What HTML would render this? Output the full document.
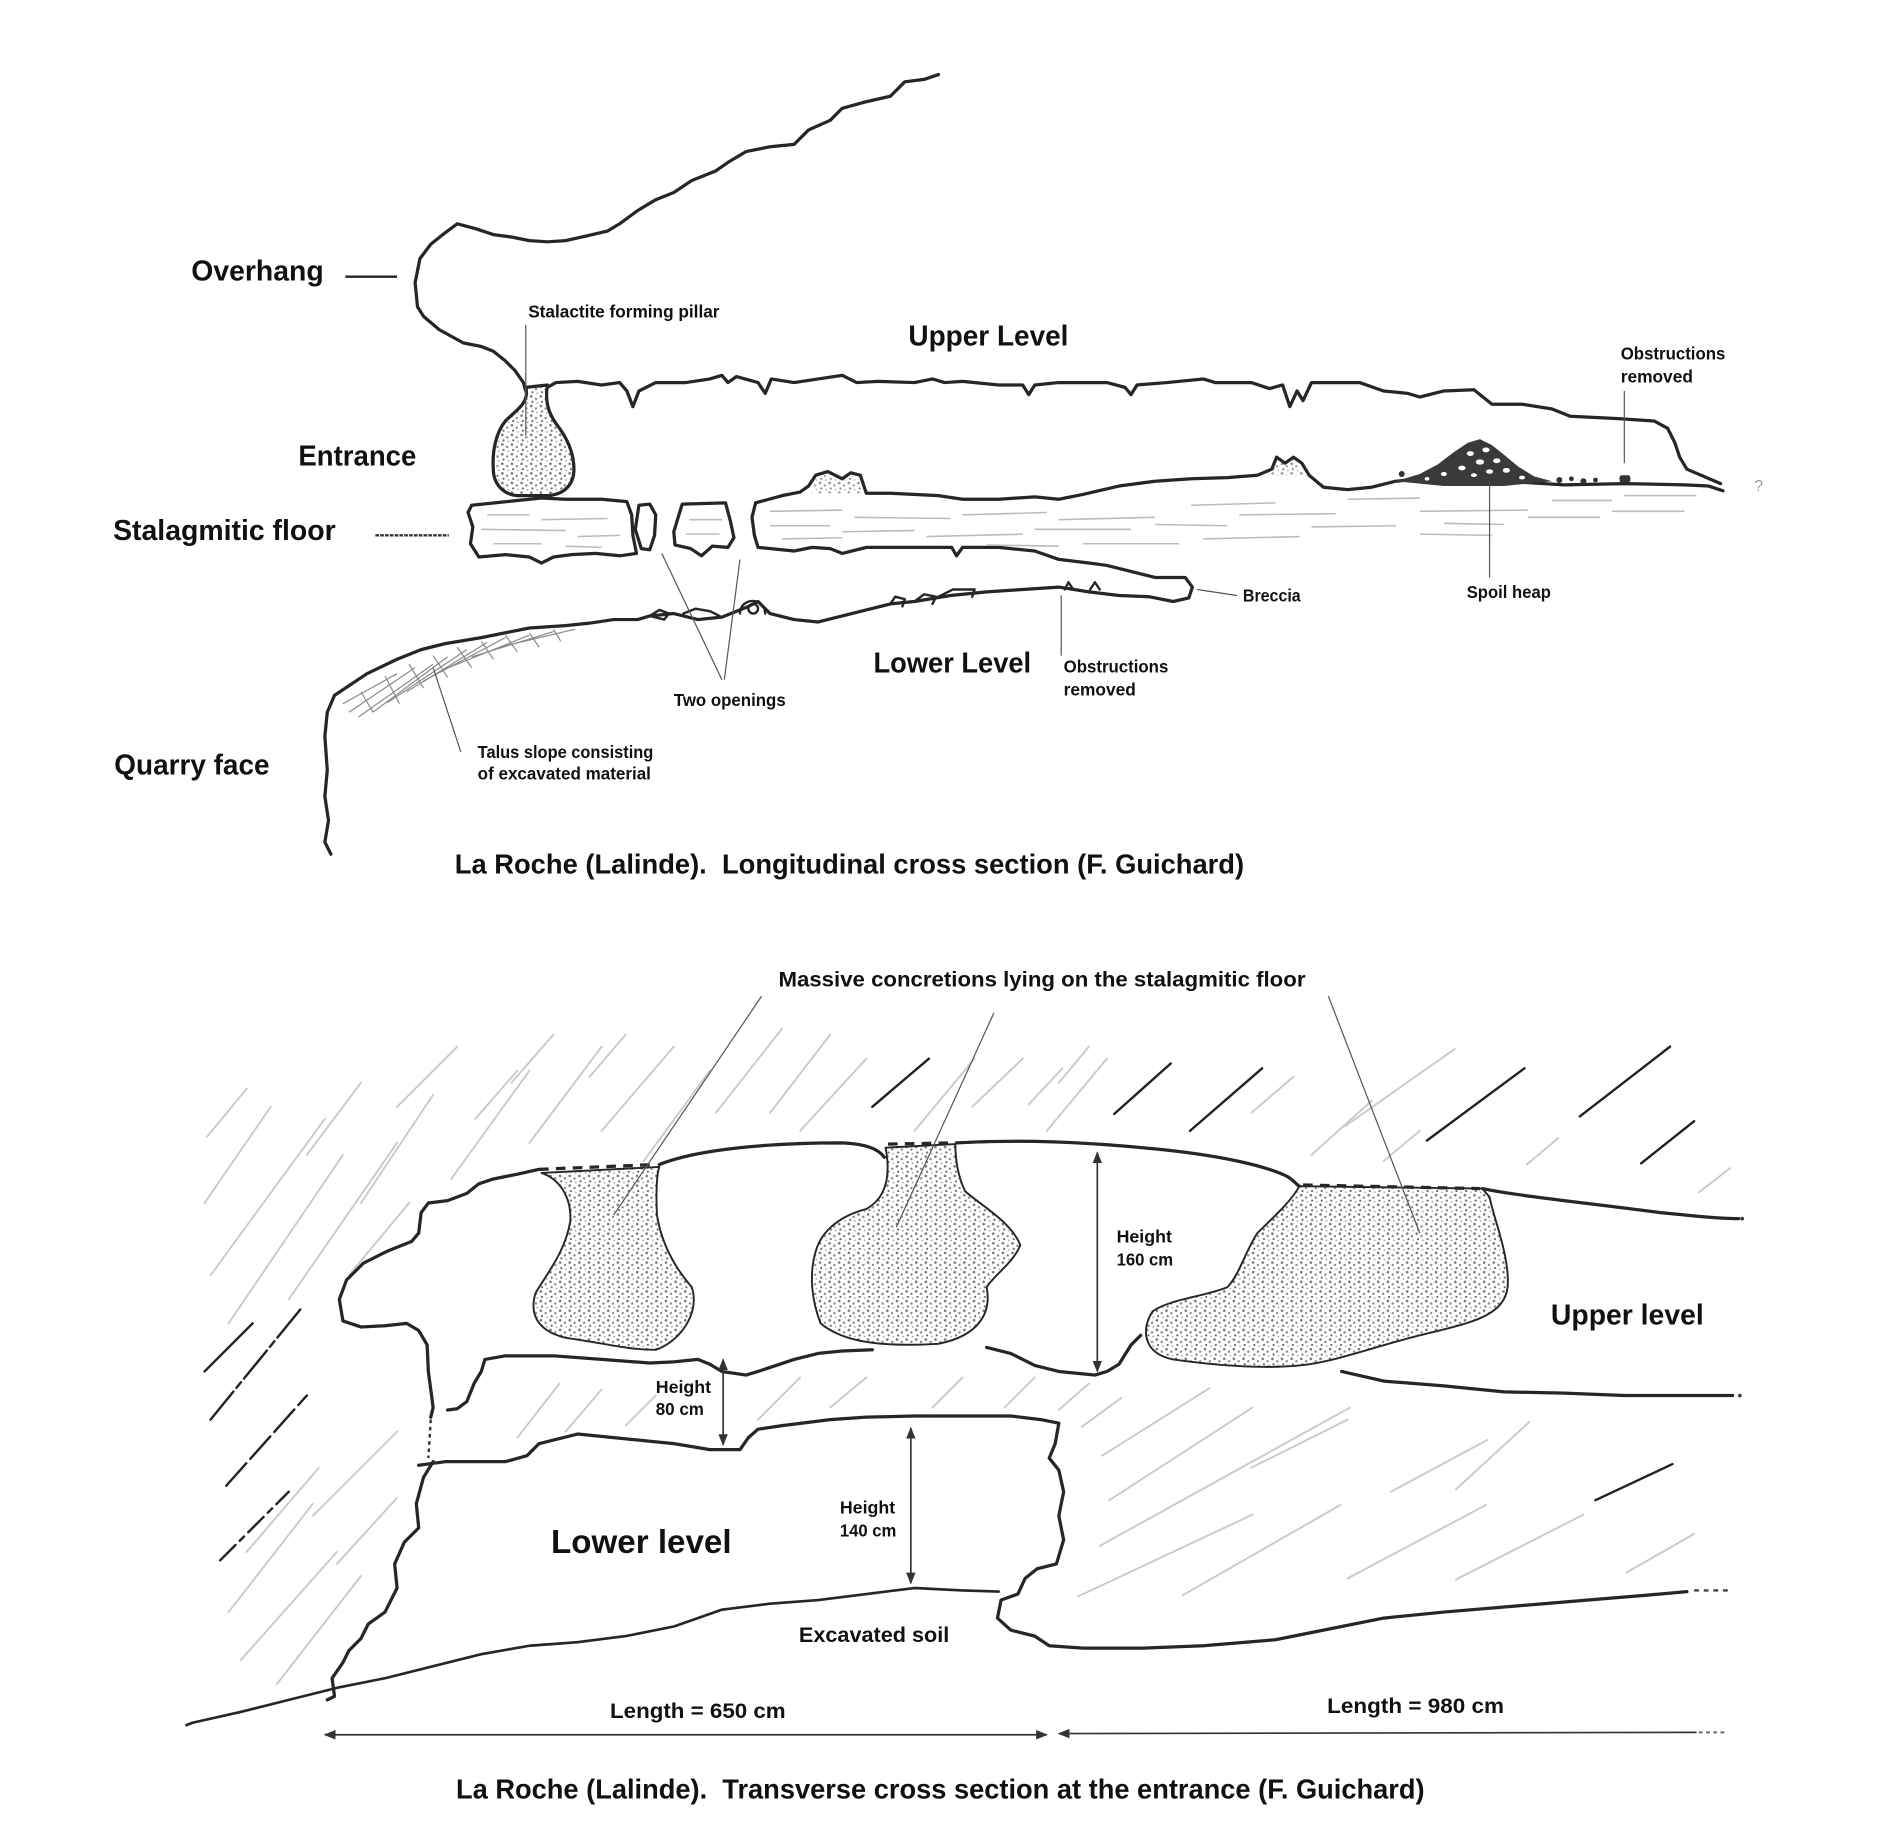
<!DOCTYPE html>
<html><head><meta charset="utf-8"><style>
html,body{margin:0;padding:0;background:#fff;}
svg{display:block;}
text{font-family:"Liberation Sans",sans-serif;font-weight:bold;fill:#111;}
.o{fill:none;stroke:#262626;stroke-width:2.7;stroke-linejoin:round;stroke-linecap:round;}
.t{fill:none;stroke:#555;stroke-width:1;}
.h{fill:none;stroke:#cacaca;stroke-width:1.6;stroke-linecap:round;}
.d{fill:none;stroke:#222;stroke-width:2;stroke-linecap:round;}
.f{fill:none;stroke:#bbb;stroke-width:1.3;}
</style></head><body>
<svg width="1877" height="1825" viewBox="0 0 1560 1517" preserveAspectRatio="none" xmlns="http://www.w3.org/2000/svg">
<defs>
<pattern id="dots" width="8" height="8" patternUnits="userSpaceOnUse">
<circle cx="1.5" cy="1.5" r="1.1" fill="#777"/><circle cx="5.5" cy="3.5" r="1" fill="#888"/><circle cx="2.5" cy="6" r="0.9" fill="#666"/><circle cx="6.5" cy="7" r="0.7" fill="#999"/>
</pattern>
<marker id="ah" viewBox="0 0 10 10" refX="9" refY="5" markerWidth="7" markerHeight="7" orient="auto-start-reverse"><path d="M0,1 L10,5 L0,9 z" fill="#333"/></marker>
</defs>
<rect width="1560" height="1517" fill="#fff"/>

<!-- ============ TOP SECTION ============ -->
<polyline class="o" points="780,62 768,66 752,68 740,80 718,85 700,90 690,100 672,108 660,120 640,122 620,126 605,135 595,142 575,150 560,160 545,166 530,175 515,186 505,192 488,196 470,200 455,201 440,200 425,197 410,195 395,190 380,186 368,195 358,203 349,215 345,235 347,255 352,263 365,274 385,285 400,288 410,292 420,300 428,308 435,318 437,325"/>
<!-- pillar -->
<path d="M437,322 C440,335 430,340 420,350 C412,360 409,375 410,390 C410,402 418,411 430,412 L455,412 C470,411 477,402 477,390 C477,375 470,362 462,352 C455,342 453,332 455,320 Z" class="o" style="fill:url(#dots)"/>
<line class="t" x1="437" y1="270" x2="437" y2="362"/>
<!-- upper level ceiling -->
<polyline class="o" points="455,322 462,318 480,317 500,320 515,318 521,325 526,338 531,325 545,318 570,318 590,315 600,312 605,318 612,313 630,318 636,327 641,315 660,318 680,315 700,312 712,318 730,317 760,318 775,315 785,318 800,317 830,320 850,320 855,328 860,320 880,318 920,318 935,322 940,328 945,320 970,318 1000,315 1010,318 1040,318 1055,323 1066,320 1072,338 1078,325 1083,333 1090,318 1110,318 1130,318 1150,325 1170,327 1180,330 1200,325 1225,324 1240,336 1265,336 1290,340 1305,346 1345,348 1375,350 1386,356 1392,368 1396,380 1402,390 1416,396 1430,402"/>
<!-- floor blocks -->
<path class="o" d="M392,420 L430,416 L450,414 L470,415 L500,415 L521,417 L525,428 L526,445 L529,460 L515,462 L495,460 L475,461 L460,463 L450,468 L440,463 L420,461 L398,463 L391,452 L393,438 L389,426 Z"/>
<path class="o" d="M531,420 L540,419 L545,428 L544,445 L540,457 L533,456 L528,440 Z"/>
<path class="o" d="M567,419 L603,418 L607,433 L610,447 L605,455 L592,454 L583,462 L574,456 L561,453 L560,442 Z"/>
<!-- bumps on floor -->
<path d="M674,410 L678,398 L688,394 L700,400 L707,395 L714,398 L718,410 Z" style="fill:url(#dots)" opacity="0.8"/>
<path d="M1056,395 L1062,384 L1068,386 L1075,382 L1085,395 Z" style="fill:url(#dots)" opacity="0.8"/>
<!-- big right block -->
<polyline class="o" points="628,418 650,412 665,409 672,404 678,395 688,392 700,398 707,393 715,395 720,410 740,410 780,412 800,415 830,415 860,413 880,415 900,411 930,404 960,400 990,398 1020,397 1045,395 1057,390 1061,380 1068,385 1075,380 1082,385 1088,395 1100,405 1120,407 1140,405 1160,400 1180,398 1200,396 1250,400 1300,403 1350,402 1400,403 1420,404 1432,408"/>
<polyline class="o" points="628,418 625,430 627,445 630,455 660,458 675,455 690,456 700,460 720,455 750,455 780,455 791,455 795,462 800,455 830,455 860,458 880,465 905,468 920,470 940,475 960,480 985,480 991,488 988,497 975,500 955,496 930,495 905,492 880,488 850,490 820,492 790,495 760,500 740,502 720,507 700,512 680,517 660,515 640,510 630,500 620,505 600,513 580,515 560,510 540,512 530,515 510,515 490,518 470,520 440,522 400,530 370,535 350,540 330,548 305,560 290,570 278,578 272,592 270,612 272,640 270,662 273,682 270,700 275,710"/>
<!-- floor texture -->
<g class="f">
<line x1="405" y1="428" x2="440" y2="428"/><line x1="450" y1="432" x2="505" y2="431"/><line x1="400" y1="440" x2="470" y2="441"/><line x1="480" y1="446" x2="515" y2="445"/><line x1="410" y1="452" x2="450" y2="452"/><line x1="470" y1="454" x2="500" y2="455"/>
<line x1="573" y1="432" x2="600" y2="432"/><line x1="570" y1="444" x2="598" y2="444"/>
<line x1="640" y1="425" x2="700" y2="424"/><line x1="710" y1="430" x2="790" y2="431"/><line x1="640" y1="437" x2="690" y2="437"/><line x1="700" y1="442" x2="760" y2="441"/><line x1="650" y1="448" x2="700" y2="447"/><line x1="770" y1="446" x2="850" y2="444"/>
<line x1="800" y1="428" x2="870" y2="426"/><line x1="880" y1="432" x2="960" y2="430"/><line x1="860" y1="440" x2="940" y2="440"/><line x1="960" y1="436" x2="1020" y2="437"/><line x1="900" y1="452" x2="980" y2="452"/><line x1="820" y1="453" x2="880" y2="454"/>
<line x1="990" y1="420" x2="1060" y2="418"/><line x1="1030" y1="428" x2="1110" y2="427"/><line x1="1000" y1="448" x2="1080" y2="446"/><line x1="1090" y1="438" x2="1160" y2="437"/><line x1="1120" y1="415" x2="1180" y2="414"/>
<line x1="1180" y1="425" x2="1270" y2="424"/><line x1="1200" y1="435" x2="1250" y2="436"/><line x1="1180" y1="444" x2="1240" y2="445"/><line x1="1270" y1="430" x2="1330" y2="430"/><line x1="1290" y1="416" x2="1340" y2="416"/><line x1="1340" y1="425" x2="1400" y2="425"/><line x1="1350" y1="412" x2="1410" y2="412"/>
</g>
<!-- spoil heap -->
<path d="M1160,400 L1180,394 L1195,386 L1208,376 L1220,368 L1230,365 L1240,370 L1250,378 L1262,388 L1275,396 L1290,400 L1250,404 L1200,404 Z" fill="#3a3a3a"/>
<g fill="#fff">
<ellipse cx="1222" cy="377" rx="3" ry="2"/><ellipse cx="1235" cy="374" rx="3" ry="2"/><ellipse cx="1230" cy="384" rx="3.5" ry="2.2"/><ellipse cx="1244" cy="383" rx="3" ry="2"/><ellipse cx="1215" cy="389" rx="3" ry="2"/><ellipse cx="1252" cy="391" rx="3" ry="2"/><ellipse cx="1238" cy="392" rx="3" ry="1.8"/><ellipse cx="1200" cy="394" rx="2.5" ry="1.8"/><ellipse cx="1225" cy="395" rx="2.5" ry="1.6"/><ellipse cx="1265" cy="397" rx="2.5" ry="1.6"/><ellipse cx="1186" cy="398" rx="2" ry="1.5"/>
</g>
<g fill="#333">
<circle cx="1165" cy="394" r="2.5"/><circle cx="1296" cy="399" r="2.5"/><circle cx="1306" cy="398" r="2"/><circle cx="1316" cy="400" r="2.5"/><circle cx="1326" cy="399" r="2"/><rect x="1346" y="395" width="9" height="6" rx="2"/>
</g>
<!-- lower level blobs -->
<g class="o" style="stroke-width:2">
<path d="M540,512 L548,507 L556,510 L552,515 Z"/><path d="M568,510 L578,506 L590,508 L598,512"/><path d="M615,510 C615,497 635,495 636,510"/><circle cx="626" cy="506" r="4"/>
<path d="M740,502 L744,496 L752,498 L750,504"/><path d="M760,500 L768,494 L778,496 L775,502"/><path d="M780,496 L792,490 L810,490 L808,496"/><path d="M885,490 L888,484 L892,490"/><path d="M906,490 L910,484 L914,490"/>
</g>
<!-- talus hatching -->
<g stroke="#8a8a8a" stroke-width="1" fill="none">
<line x1="285" y1="585" x2="330" y2="560"/><line x1="290" y1="592" x2="345" y2="555"/><line x1="298" y1="596" x2="360" y2="552"/><line x1="310" y1="592" x2="372" y2="546"/><line x1="322" y1="584" x2="388" y2="540"/><line x1="338" y1="575" x2="405" y2="534"/><line x1="352" y1="566" x2="420" y2="530"/><line x1="370" y1="556" x2="440" y2="528"/><line x1="392" y1="546" x2="460" y2="525"/><line x1="415" y1="538" x2="478" y2="523"/>
<line x1="300" y1="575" x2="310" y2="592"/><line x1="320" y1="562" x2="332" y2="585"/><line x1="340" y1="552" x2="352" y2="572"/><line x1="360" y1="545" x2="372" y2="563"/><line x1="380" y1="538" x2="392" y2="555"/><line x1="400" y1="533" x2="410" y2="548"/><line x1="420" y1="528" x2="430" y2="542"/><line x1="440" y1="526" x2="448" y2="538"/><line x1="460" y1="523" x2="466" y2="533"/>
</g>
<!-- leaders -->
<line x1="287" y1="230" x2="330" y2="230" stroke="#222" stroke-width="2"/>
<line x1="312" y1="445" x2="373" y2="445" stroke="#333" stroke-width="2" stroke-dasharray="3,1"/>
<line class="t" x1="550" y1="460" x2="600" y2="565"/>
<line class="t" x1="615" y1="465" x2="602" y2="565"/>
<line class="t" x1="995" y1="490" x2="1028" y2="495"/>
<line class="t" x1="1238" y1="400" x2="1238" y2="480"/>
<line class="t" x1="1350" y1="325" x2="1350" y2="385"/>
<line class="t" x1="882" y1="495" x2="882" y2="545"/>
<line class="t" x1="360" y1="555" x2="383" y2="625"/>
<text x="1458" y="408" font-size="13" style="font-weight:normal;fill:#999">?</text>

<!-- top texts -->
<text x="159" y="233" font-size="24" textLength="110" lengthAdjust="spacingAndGlyphs">Overhang</text>
<text x="439" y="264" font-size="14.5" textLength="159" lengthAdjust="spacingAndGlyphs">Stalactite forming pillar</text>
<text x="755" y="287" font-size="24" textLength="133" lengthAdjust="spacingAndGlyphs">Upper Level</text>
<text x="1347" y="299" font-size="14.5" textLength="87" lengthAdjust="spacingAndGlyphs">Obstructions</text>
<text x="1347" y="318" font-size="14.5" textLength="60" lengthAdjust="spacingAndGlyphs">removed</text>
<text x="248" y="387" font-size="24" textLength="98" lengthAdjust="spacingAndGlyphs">Entrance</text>
<text x="94" y="449" font-size="24" textLength="185" lengthAdjust="spacingAndGlyphs">Stalagmitic floor</text>
<text x="1033" y="500" font-size="14.5" textLength="48" lengthAdjust="spacingAndGlyphs">Breccia</text>
<text x="1219" y="497" font-size="14.5" textLength="70" lengthAdjust="spacingAndGlyphs">Spoil heap</text>
<text x="726" y="559" font-size="24" textLength="131" lengthAdjust="spacingAndGlyphs">Lower Level</text>
<text x="884" y="559" font-size="14.5" textLength="87" lengthAdjust="spacingAndGlyphs">Obstructions</text>
<text x="884" y="578" font-size="14.5" textLength="60" lengthAdjust="spacingAndGlyphs">removed</text>
<text x="560" y="587" font-size="14.5" textLength="93" lengthAdjust="spacingAndGlyphs">Two openings</text>
<text x="95" y="644" font-size="24" textLength="129" lengthAdjust="spacingAndGlyphs">Quarry face</text>
<text x="397" y="630" font-size="14.5" textLength="146" lengthAdjust="spacingAndGlyphs">Talus slope consisting</text>
<text x="397" y="648" font-size="14.5" textLength="144" lengthAdjust="spacingAndGlyphs">of excavated material</text>
<text x="378" y="726" font-size="23" textLength="656" lengthAdjust="spacingAndGlyphs" xml:space="preserve">La Roche (Lalinde).  Longitudinal cross section (F. Guichard)</text>

<!-- ============ BOTTOM SECTION ============ -->
<g class="h">
<line x1="170" y1="1000" x2="225" y2="920"/><line x1="175" y1="1060" x2="270" y2="930"/><line x1="190" y1="1100" x2="285" y2="960"/><line x1="172" y1="945" x2="205" y2="905"/>
<line x1="240" y1="1080" x2="330" y2="950"/><line x1="255" y1="960" x2="300" y2="900"/><line x1="300" y1="1000" x2="360" y2="910"/><line x1="290" y1="1060" x2="340" y2="1000"/>
<line x1="330" y1="920" x2="380" y2="870"/><line x1="375" y1="980" x2="440" y2="890"/><line x1="395" y1="930" x2="430" y2="890"/><line x1="440" y1="950" x2="500" y2="870"/>
<line x1="425" y1="900" x2="460" y2="860"/><line x1="500" y1="940" x2="560" y2="870"/><line x1="490" y1="895" x2="520" y2="860"/><line x1="535" y1="965" x2="590" y2="890"/>
<line x1="595" y1="925" x2="650" y2="855"/><line x1="640" y1="925" x2="690" y2="860"/><line x1="665" y1="940" x2="720" y2="880"/><line x1="760" y1="940" x2="810" y2="880"/>
<line x1="808" y1="920" x2="850" y2="880"/><line x1="870" y1="940" x2="920" y2="880"/><line x1="880" y1="900" x2="905" y2="870"/><line x1="855" y1="918" x2="883" y2="888"/>
<line x1="1118" y1="936" x2="1209" y2="872"/><line x1="1090" y1="960" x2="1140" y2="915"/><line x1="1269" y1="968" x2="1295" y2="946"/><line x1="1412" y1="991" x2="1438" y2="971"/>
<line x1="1040" y1="925" x2="1075" y2="895"/><line x1="1150" y1="965" x2="1180" y2="940"/>
<line x1="430" y1="1195" x2="465" y2="1150"/><line x1="470" y1="1190" x2="500" y2="1155"/><line x1="630" y1="1180" x2="665" y2="1145"/><line x1="690" y1="1170" x2="720" y2="1145"/><line x1="775" y1="1170" x2="800" y2="1145"/><line x1="835" y1="1170" x2="860" y2="1145"/><line x1="880" y1="1172" x2="905" y2="1150"/><line x1="520" y1="1185" x2="545" y2="1160"/>
<line x1="190" y1="1340" x2="260" y2="1250"/><line x1="200" y1="1380" x2="280" y2="1290"/><line x1="205" y1="1290" x2="265" y2="1220"/><line x1="230" y1="1400" x2="300" y2="1310"/><line x1="260" y1="1260" x2="330" y2="1190"/><line x1="280" y1="1300" x2="330" y2="1245"/>
<line x1="899" y1="1186" x2="932" y2="1162"/><line x1="916" y1="1210" x2="1005" y2="1154"/><line x1="922" y1="1247" x2="1041" y2="1170"/><line x1="914" y1="1285" x2="1122" y2="1170"/><line x1="896" y1="1327" x2="1041" y2="1259"/><line x1="983" y1="1326" x2="1114" y2="1251"/><line x1="1120" y1="1312" x2="1235" y2="1251"/><line x1="1210" y1="1313" x2="1316" y2="1259"/><line x1="1210" y1="1238" x2="1271" y2="1182"/><line x1="1156" y1="1240" x2="1236" y2="1197"/><line x1="1352" y1="1307" x2="1408" y2="1275"/><line x1="1040" y1="1220" x2="1120" y2="1180"/>
</g>
<g class="d">
<line x1="926" y1="926" x2="973" y2="884"/><line x1="989" y1="940" x2="1049" y2="888"/><line x1="1186" y1="948" x2="1267" y2="888"/><line x1="1313" y1="928" x2="1388" y2="870"/><line x1="1364" y1="967" x2="1408" y2="932"/><line x1="725" y1="920" x2="772" y2="880"/>
<line x1="1326" y1="1247" x2="1390" y2="1217"/>
<line x1="175" y1="1180" x2="250" y2="1088" stroke-dasharray="30,4,6,4"/><line x1="170" y1="1140" x2="210" y2="1100"/><line x1="188" y1="1235" x2="255" y2="1160" stroke-dasharray="25,5"/><line x1="183" y1="1297" x2="240" y2="1240" stroke-dasharray="18,5,5,5"/>
</g>
<!-- concretions -->
<path class="o" style="stroke-width:1.6;fill:url(#dots)" d="M450,975 C465,980 475,995 474,1015 C470,1040 455,1058 445,1075 C440,1092 446,1106 470,1112 C500,1116 520,1122 545,1122 C565,1115 582,1092 575,1070 C562,1055 550,1035 546,1010 C545,990 546,975 548,970 Z"/>
<path class="o" style="stroke-width:1.6;fill:url(#dots)" d="M736,954 C740,975 738,995 720,1005 C700,1010 683,1022 678,1040 C672,1060 675,1082 682,1100 C700,1115 730,1120 780,1117 C815,1110 824,1090 820,1070 C826,1060 842,1050 848,1035 C840,1015 815,1002 802,990 C795,975 794,960 794,951 Z"/>
<path class="o" style="stroke-width:1.6;fill:url(#dots)" d="M1080,986 C1072,1000 1058,1012 1045,1025 C1035,1040 1030,1060 1020,1070 C1000,1078 972,1080 958,1090 C948,1105 950,1125 975,1130 C1010,1135 1050,1138 1080,1135 C1110,1132 1140,1120 1180,1110 C1220,1100 1250,1095 1253,1070 C1255,1045 1242,1015 1238,995 L1232,988 Z"/>
<!-- upper level outlines -->
<path class="o" d="M548,968 C580,955 640,950 700,950 C720,951 730,955 735,962"/>
<path class="o" d="M795,950 C850,947 900,949 960,955 C1010,960 1050,968 1070,978 C1075,981 1078,985 1080,986"/>
<path class="o" d="M1232,988 C1260,994 1320,1000 1380,1008 C1410,1011 1430,1013 1445,1013"/>
<g stroke="#262626" stroke-width="2.7" stroke-dasharray="8,6" fill="none"><line x1="448" y1="972" x2="545" y2="968"/><line x1="738" y1="951" x2="793" y2="950"/><line x1="1083" y1="985" x2="1230" y2="988"/></g>
<circle cx="1448" cy="1013" r="1.5" fill="#333"/>
<polyline class="o" points="448,972 430,976 410,980 398,984 388,992 372,998 356,1000 350,1008 348,1025 342,1032 322,1040 302,1050 288,1064 282,1080 285,1098 300,1103 320,1102 338,1100 348,1106 355,1118 356,1140 358,1155 360,1170 358,1178"/>
<polyline class="o" points="372,1172 380,1171 388,1165 394,1150 400,1140 403,1130 420,1127 460,1127 500,1130 540,1133 560,1132 580,1130 590,1134 600,1140 620,1143 630,1140 660,1130 680,1125 700,1123 725,1122"/>
<polyline class="o" points="820,1120 840,1125 860,1135 880,1140 900,1142 910,1143 920,1140 930,1134 940,1118 948,1110"/>
<polyline class="o" points="1115,1140 1150,1148 1200,1152 1250,1157 1300,1158 1350,1160 1400,1160 1440,1160"/>
<circle cx="1446" cy="1160" r="1.5" fill="#333"/>
<line x1="358" y1="1180" x2="356" y2="1212" stroke="#333" stroke-width="2" stroke-dasharray="3,3"/>
<!-- lower level -->
<polyline class="o" points="348,1218 370,1215 420,1215 438,1210 448,1200 460,1197 480,1192 510,1195 560,1200 590,1205 615,1205 622,1195 630,1188 650,1185 690,1180 720,1178 760,1177 800,1177 840,1177 865,1180 880,1183"/>
<polyline class="o" points="880,1183 877,1200 872,1212 880,1222 884,1240 880,1260 884,1280 878,1300 862,1304 852,1312 846,1325 832,1330 829,1345 840,1355 860,1360 872,1368 900,1370 950,1370 1000,1368 1060,1363 1100,1355 1150,1345 1200,1340 1260,1335 1320,1330 1380,1325 1402,1323"/>
<line x1="1408" y1="1322" x2="1436" y2="1322" stroke="#444" stroke-width="2" stroke-dasharray="4,4"/>
<polyline class="o" style="stroke-width:2.2" points="830,1323 800,1322 760,1320 720,1325 680,1330 640,1333 600,1338 580,1345 560,1352 520,1360 480,1365 440,1368 400,1375 360,1385 320,1395 280,1403 240,1413 200,1423 160,1432 155,1434"/>
<polyline class="o" points="360,1215 352,1228 346,1250 348,1270 336,1282 328,1300 330,1320 320,1340 306,1350 300,1362 290,1372 285,1382 276,1395 278,1410 272,1413"/>
<g class="t"><line x1="633" y1="828" x2="510" y2="1010"/><line x1="826" y1="842" x2="745" y2="1020"/><line x1="1104" y1="828" x2="1180" y2="1025"/></g>
<g stroke="#333" stroke-width="1.4" fill="none">
<line x1="912" y1="958" x2="912" y2="1140" marker-start="url(#ah)" marker-end="url(#ah)"/>
<line x1="601" y1="1130" x2="601" y2="1201" marker-start="url(#ah)" marker-end="url(#ah)"/>
<line x1="757" y1="1187" x2="757" y2="1316" marker-start="url(#ah)" marker-end="url(#ah)"/>
<line x1="270" y1="1442" x2="870" y2="1442" marker-start="url(#ah)" marker-end="url(#ah)"/>
<line x1="880" y1="1441" x2="1410" y2="1440" marker-start="url(#ah)"/>
</g>
<line x1="1412" y1="1440" x2="1434" y2="1440" stroke="#666" stroke-width="1.6" stroke-dasharray="3,3"/>

<text x="647" y="820" font-size="18" textLength="438" lengthAdjust="spacingAndGlyphs">Massive concretions lying on the stalagmitic floor</text>
<text x="928" y="1033" font-size="14.5" textLength="46" lengthAdjust="spacingAndGlyphs">Height</text>
<text x="928" y="1052" font-size="14.5" textLength="47" lengthAdjust="spacingAndGlyphs">160 cm</text>
<text x="1289" y="1101" font-size="24" textLength="127" lengthAdjust="spacingAndGlyphs">Upper level</text>
<text x="545" y="1158" font-size="14.5" textLength="46" lengthAdjust="spacingAndGlyphs">Height</text>
<text x="545" y="1176" font-size="14.5" textLength="40" lengthAdjust="spacingAndGlyphs">80 cm</text>
<text x="458" y="1291" font-size="28" textLength="150" lengthAdjust="spacingAndGlyphs">Lower level</text>
<text x="698" y="1258" font-size="14.5" textLength="46" lengthAdjust="spacingAndGlyphs">Height</text>
<text x="698" y="1277" font-size="14.5" textLength="47" lengthAdjust="spacingAndGlyphs">140 cm</text>
<text x="664" y="1365" font-size="18" textLength="125" lengthAdjust="spacingAndGlyphs">Excavated soil</text>
<text x="507" y="1428" font-size="18" textLength="146" lengthAdjust="spacingAndGlyphs">Length = 650 cm</text>
<text x="1103" y="1424" font-size="18" textLength="147" lengthAdjust="spacingAndGlyphs">Length = 980 cm</text>
<text x="379" y="1495" font-size="23" textLength="805" lengthAdjust="spacingAndGlyphs" xml:space="preserve">La Roche (Lalinde).  Transverse cross section at the entrance (F. Guichard)</text>
</svg>
</body></html>
